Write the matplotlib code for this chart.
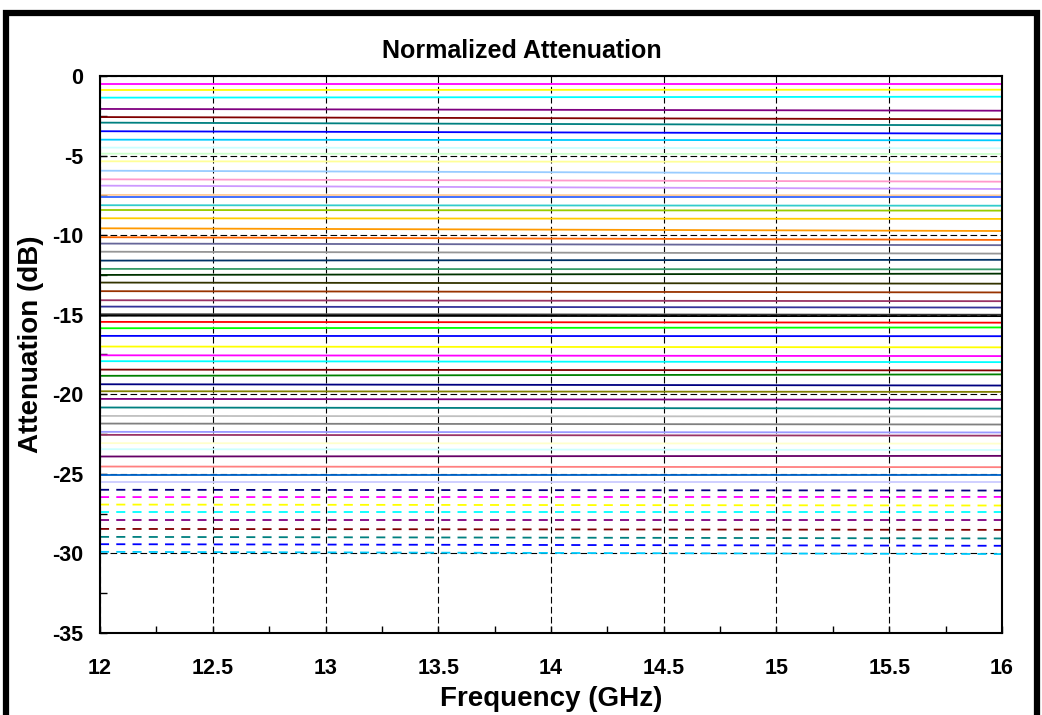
import matplotlib.pyplot as plt
from matplotlib.lines import Line2D

plt.rcParams['font.family'] = ['Liberation Sans', 'DejaVu Sans']
plt.rcParams['font.weight'] = 'bold'
plt.rcParams['axes.unicode_minus'] = False

freq = [12, 16]

# attenuation at 12 GHz and at 16 GHz for every state, in plot order
att_start = [0.0, -0.52, -0.88, -1.36, -2.07, -2.58, -2.93, -3.47, -4.0, -4.5,
             -4.88, -5.36, -5.95, -6.49, -6.89, -7.47, -7.6, -8.12, -8.42, -8.94,
             -9.57, -10.13, -10.53, -11.04, -11.6, -12.12, -12.5, -12.98, -13.52, -14.09,
             -14.49, -14.97, -15.06, -15.2, -15.45, -15.85, -16.33, -17.0, -17.55, -17.92,
             -18.45, -18.84, -19.37, -19.81, -20.29, -20.83, -21.36, -21.84, -22.36, -22.55,
             -23.07, -23.45, -23.91, -24.54, -25.1, -25.52,
             -26.0, -26.46, -26.93, -27.39, -27.89, -28.46, -28.96, -29.42, -29.9]
att_end = [0.0, -0.52, -0.86, -1.3, -2.18, -2.72, -3.1, -3.62, -4.04, -4.54,
           -4.9, -5.4, -6.14, -6.64, -7.1, -7.5, -7.6, -8.15, -8.46, -8.98,
           -9.74, -10.3, -10.63, -11.16, -11.55, -12.15, -12.42, -13.05, -13.6, -14.15,
           -14.55, -15.0, -15.1, -15.2, -15.5, -15.8, -16.35, -17.05, -17.6, -17.98,
           -18.5, -18.75, -19.45, -19.85, -20.35, -20.9, -21.4, -21.9, -22.4, -22.6,
           -23.1, -23.5, -23.87, -24.58, -25.1, -25.52,
           -26.05, -26.45, -26.99, -27.39, -27.89, -28.52, -29.06, -29.52, -30.04]
colors = ['#000080', '#FF00FF', '#FFFF00', '#00FFFF', '#800080', '#800000', '#008080', '#0000FF',
          '#00CCFF', '#CCFFFF', '#CCFFCC', '#FFFF99', '#99CCFF', '#FF99CC', '#CC99FF', '#FFCC99',
          '#3366FF', '#33CCCC', '#99CC00', '#FFCC00', '#FF9900', '#FF6600', '#666699', '#969696',
          '#003366', '#339966', '#003300', '#333300', '#993300', '#993366', '#333399', '#333333',
          '#000000', '#FFFFFF', '#FF0000', '#00FF00', '#0000FF', '#FFFF00', '#FF00FF', '#00FFFF',
          '#800000', '#008000', '#000080', '#808000', '#800080', '#008080', '#C0C0C0', '#808080',
          '#9999FF', '#993366', '#FFFFCC', '#CCFFFF', '#660066', '#FF8080', '#0066CC', '#CCCCFF',
          '#000080', '#FF00FF', '#FFFF00', '#00FFFF', '#800080', '#800000', '#008080', '#0000FF',
          '#00CCFF']
n_solid = 56

fig = plt.figure(figsize=(10.42, 7.15), dpi=100)
ax = fig.add_axes([0.096, 0.1147, 0.8656, 0.779])

for i in range(len(att_start)):
    ls = '-' if i < n_solid else (0, (5, 4))
    ax.plot(freq, [att_start[i], att_end[i]], color=colors[i], lw=1.3, ls=ls, zorder=2)

ax.set_xlim(12, 16)
ax.set_ylim(-35, 0)
ax.set_xticks([12, 12.5, 13, 13.5, 14, 14.5, 15, 15.5, 16])
ax.set_xticklabels(['12', '12.5', '13', '13.5', '14', '14.5', '15', '15.5', '16'])
ax.set_yticks([0, -5, -10, -15, -20, -25, -30, -35])
ax.set_xticks([12.25 + 0.5 * k for k in range(8)], minor=True)
ax.set_yticks([-2.5 - 5 * k for k in range(7)], minor=True)
ax.tick_params(which='both', direction='in', labelsize=15.5)
ax.tick_params(which='major', length=5, width=1)
ax.tick_params(which='minor', length=5, width=1)
ax.tick_params(axis='x', pad=18)
ax.tick_params(axis='y', pad=12)
ax.grid(True, which='major', color='black', ls=(0, (6, 3)), lw=0.8, zorder=1)
for s in ax.spines.values():
    s.set_linewidth(1.5)
    s.set_zorder(3)

ax.set_title('Normalized Attenuation', fontsize=18, fontweight='bold', pad=13, x=0.468)
ax.set_xlabel('Frequency (GHz)', fontsize=20, fontweight='bold', labelpad=5)
ax.set_ylabel('Attenuation (dB)', fontsize=20, fontweight='bold')
ax.yaxis.set_label_coords(-0.062, 0.518)

# thick frame round the chart (open at the bottom)
fig.add_artist(Line2D([0.0062, 0.0062, 0.9955, 0.9955], [0.0, 0.9825, 0.9825, 0.0],
                      transform=fig.transFigure, color='black', lw=4.5,
                      solid_joinstyle='miter'))

fig.savefig('out.png', dpi=100)
